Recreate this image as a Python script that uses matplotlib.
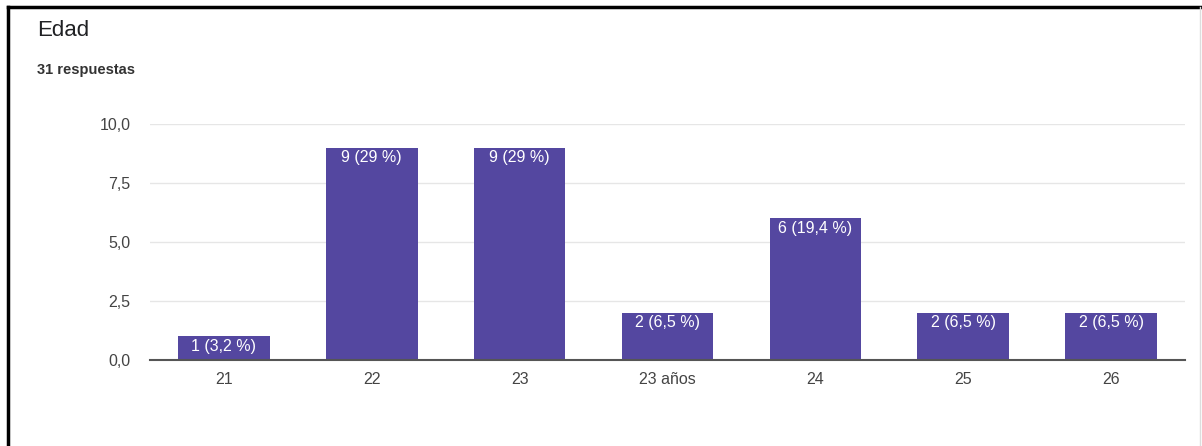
import matplotlib
matplotlib.use("Agg")
import matplotlib.pyplot as plt
from matplotlib.lines import Line2D

categories = ["21", "22", "23", "23 años", "24", "25", "26"]
values = [1, 9, 9, 2, 6, 2, 2]
bar_labels = ["1 (3,2 %)", "9 (29 %)", "9 (29 %)", "2 (6,5 %)", "6 (19,4 %)", "2 (6,5 %)", "2 (6,5 %)"]
yticks = [0, 2.5, 5, 7.5, 10]
ytick_labels = ["0,0", "2,5", "5,0", "7,5", "10,0"]

plt.rcParams['font.family'] = ['Liberation Sans', 'DejaVu Sans']

W, H = 1202, 446
fig = plt.figure(figsize=(W / 100, H / 100), dpi=100)
fig.patch.set_facecolor("white")

ax = fig.add_axes([150 / W, 1 - 360 / H, (1185 - 150) / W, (360 - 124) / H])
x = list(range(len(categories)))
bars = ax.bar(x, values, width=0.62, color="#5447a0", zorder=3)
ax.set_xlim(-0.5, len(categories) - 0.5)
ax.set_ylim(0, 10)
ax.set_yticks(yticks)
ax.set_yticklabels(ytick_labels)
ax.set_xticks(x)
ax.set_xticklabels(categories)
ax.tick_params(axis="both", length=0, labelsize=11.5, colors="#444444")
ax.tick_params(axis="y", pad=14)
ax.tick_params(axis="x", pad=9)
for s in ["top", "right", "left"]:
    ax.spines[s].set_visible(False)
ax.spines["bottom"].set_color("#555555")
ax.spines["bottom"].set_linewidth(1.5)
ax.spines["bottom"].set_zorder(4)
ax.grid(axis="y", color="#e6e6e6", linewidth=1, zorder=0)

for rect, lab in zip(bars, bar_labels):
    ax.text(rect.get_x() + rect.get_width() / 2, rect.get_height() - 0.1, lab,
            ha="center", va="top", color="white", fontsize=11.5, zorder=5)

fig.text(37 / W, 1 - 31 / H, "Edad", fontsize=16, color="#202124", va="center", ha="left")
fig.text(37 / W, 1 - 70 / H, "31 respuestas", fontsize=10.5, color="#333333",
         va="center", ha="left", fontweight="bold")

# frame lines
fig.add_artist(Line2D([8 / W, 1], [1 - 7 / H, 1 - 7 / H], color="black", linewidth=2.5,
                      transform=fig.transFigure))
fig.add_artist(Line2D([8 / W, 8 / W], [0, 1 - 7 / H], color="black", linewidth=2.5,
                      transform=fig.transFigure))
fig.add_artist(Line2D([1200 / W, 1200 / W], [0, 1 - 7 / H], color="#dddddd", linewidth=1,
                      transform=fig.transFigure))

fig.savefig("out.png", dpi=100)
